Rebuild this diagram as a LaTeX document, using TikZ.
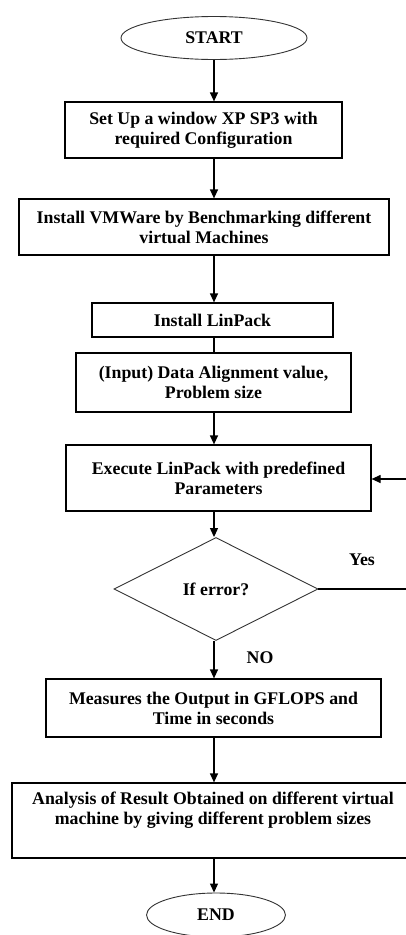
\documentclass[tikz,border=0pt]{standalone}
\usepackage{fontspec}
\setmainfont{Liberation Serif}
\usetikzlibrary{shapes.geometric,arrows.meta}
\begin{document}
\begin{tikzpicture}[x=1pt,y=-1pt,
  txt/.style={font=\fontsize{17.8}{20}\selectfont\bfseries, align=center, inner sep=0pt},
  box/.style={draw, line width=1.2pt, rectangle, inner sep=0pt, txt},
  term/.style={draw=black!80, line width=0.9pt, ellipse, inner sep=0pt, txt},
  dec/.style={draw=black!80, line width=0.9pt, diamond, inner sep=0pt, txt},
  arr/.style={line width=1.2pt, -{Triangle[length=9pt,width=8pt]}},
  ln/.style={line width=1.2pt}]
\useasboundingbox (0,0) rectangle (406,935);
\node[term, minimum width=186pt, minimum height=43pt] (start) at (214,38) {START};
\node[box, minimum width=277pt, minimum height=56pt] (b1) at (203.5,130) {Set Up a window XP SP3 with\\required Configuration};
\node[box, minimum width=370pt, minimum height=56pt] (b2) at (204,227) {Install VMWare by Benchmarking different\\virtual Machines};
\node[box, minimum width=241pt, minimum height=34pt] (b3) at (212.5,320) {Install LinPack};
\node[box, minimum width=275pt, minimum height=59pt] (b4) at (213.5,382.5) {(Input) Data Alignment value,\\Problem size};
\node[box, minimum width=305pt, minimum height=66pt] (b5) at (218.5,478) {Execute LinPack with predefined\\Parameters};
\node[dec, minimum width=204pt, minimum height=103pt, aspect=2] (d) at (216,589) {If error?};
\node[box, minimum width=335pt, minimum height=58pt] (b6) at (213.5,708) {Measures the Output in GFLOPS and\\Time in seconds};
\node[box, minimum width=402pt, minimum height=75pt] (b7) at (213,820.5) {};
\node[txt] (b7t) at (213,810) {Analysis of Result Obtained on different virtual\\machine by giving different problem sizes};
\node[term, minimum width=139pt, minimum height=44pt] (end) at (216,915) {END};
\node[txt] (yes) at (362,560) {Yes};
\node[txt] (no) at (260,658) {NO};
\coordinate (fb1) at (407,589);
\coordinate (fb2) at (407,479);
\draw[arr] (start.south) -- (start.south |- b1.north);
\draw[arr] (b1.south -| start) -- (b2.north -| start);
\draw[arr] (b2.south -| start) -- (b3.north -| start);
\draw[ln] (b3.south -| start) -- (b4.north -| start);
\draw[arr] (b4.south -| start) -- (b5.north -| start);
\draw[arr] (b5.south -| start) -- (d.north -| start);
\draw[arr] (d.south -| start) -- (b6.north -| start);
\draw[arr] (b6.south -| start) -- (b7.north -| start);
\draw[arr] (b7.south -| start) -- (end.north -| start);
\draw[arr] (d.east) -- (fb1) -- (fb2) -- (b5.east |- fb2);
\end{tikzpicture}
\end{document}
